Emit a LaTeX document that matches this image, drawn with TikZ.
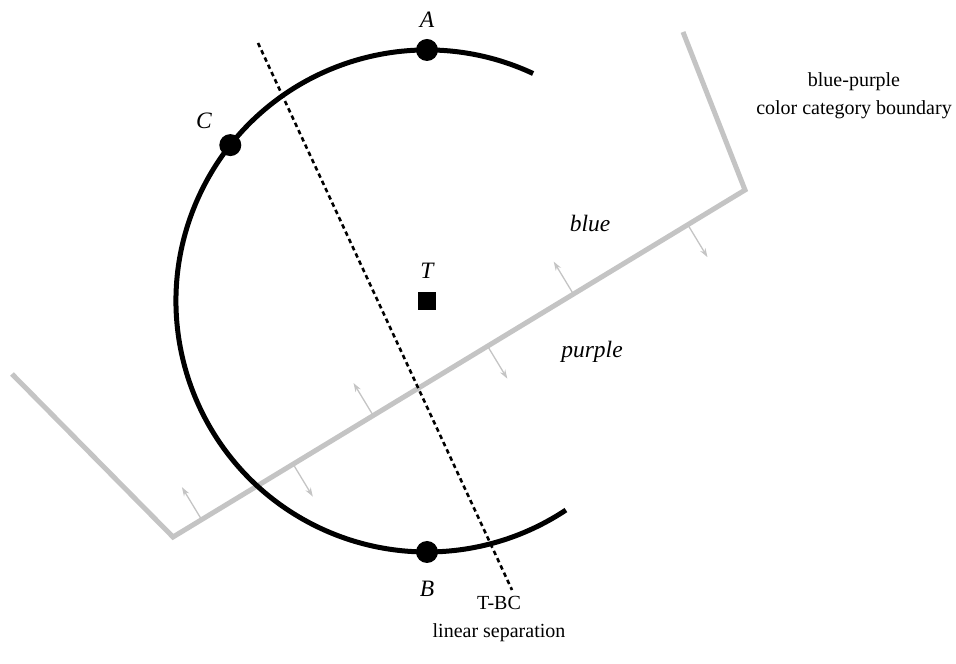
\documentclass[tikz,border=0pt]{standalone}
\usepackage{fontspec}
\setmainfont{Liberation Serif}
\usetikzlibrary{arrows.meta,calc}
\definecolor{ink}{HTML}{000000}
\definecolor{rule}{HTML}{C4C4C4}
\tikzset{
  ring/.style={draw=ink,line width=5pt},
  bound/.style={draw=rule,line width=5pt,line join=miter},
  tick/.style={-{Stealth[length=9pt,width=6pt]},draw=rule,line width=1.3pt},
  sep/.style={draw=ink,line width=2.6pt,dash pattern=on 4.5pt off 3.5pt},
  dot/.style={circle,fill=ink,minimum size=22pt,inner sep=0pt},
  sq/.style={fill=ink,minimum size=18pt,inner sep=0pt},
  lab/.style={font=\fontsize{23.5}{27}\selectfont\itshape,text=ink},
  plain/.style={align=center,font=\fontsize{20}{28}\selectfont,text=ink},
}
\begin{document}
\begin{tikzpicture}[x=1pt,y=1pt]
  \useasboundingbox (0,0) rectangle (956,664);
  % category boundary
  \coordinate (lend) at (12,290);
  \coordinate (bl) at (173,127);
  \coordinate (tr) at (745,474);
  \coordinate (rend) at (683,632);
  \draw[bound] (lend) -- (bl) -- (tr) -- (rend);
  \foreach \p in {0.05,0.35,0.70}
    \draw[tick] ($(bl)!\p!(tr)$) -- ++(121.2:38);
  \foreach \p in {0.21,0.55,0.90}
    \draw[tick] ($(bl)!\p!(tr)$) -- ++(-58.8:38);
  % circle of stimuli
  \node[sq] (T) at (427,363) {};
  \draw[ring] ($(T)+(65:251)$) arc[start angle=65,end angle=303.6,radius=251];
  \node[dot] (A) at ($(T)+(90:251)$) {};
  \node[dot] (B) at ($(T)+(-90:251)$) {};
  \node[dot] (C) at ($(T)+(141.6:251)$) {};
  \node[lab] (Tl) at (427,393) {T};
  \node[lab] (Al) at (427,644) {A};
  \node[lab] (Bl) at (427,75) {B};
  \node[lab] (Cl) at (204,543) {C};
  % linear separation
  \coordinate (stop) at (258,621);
  \coordinate (sbot) at (512,74);
  \draw[sep] (stop) -- (sbot);
  \node[lab] (blue) at (590,441) {blue};
  \node[lab] (purple) at (592,312) {purple};
  \node[plain] (catl) at (854,568) {blue-purple\\color category boundary};
  \node[plain] (sepl) at (499,45) {T-BC\\linear separation};
\end{tikzpicture}
\end{document}
